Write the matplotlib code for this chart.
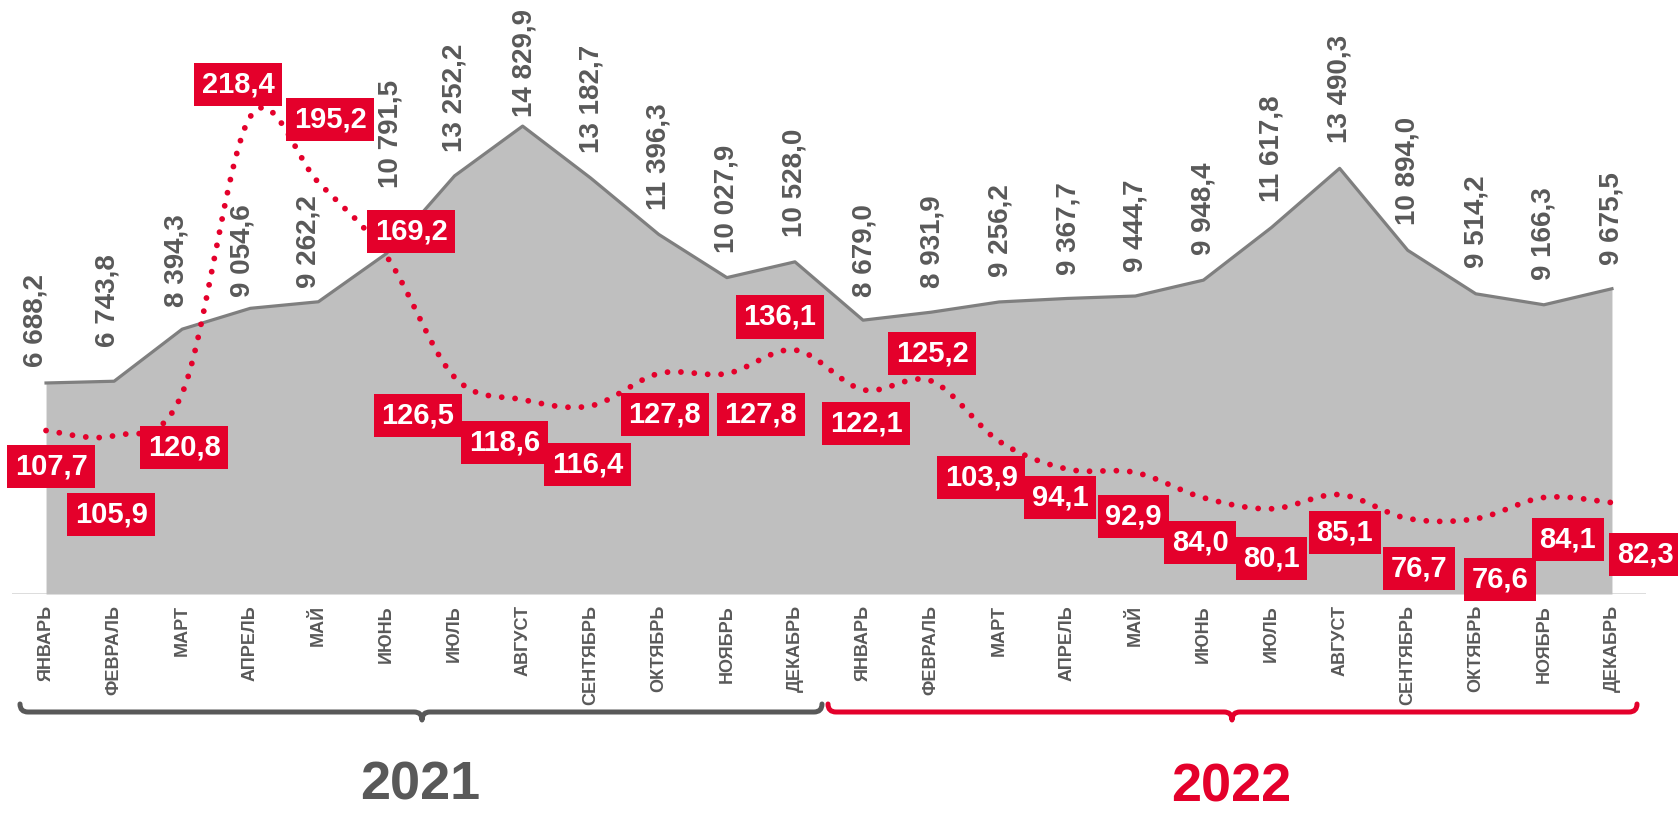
import numpy as np
import matplotlib
matplotlib.use("Agg")
import matplotlib.pyplot as plt
from matplotlib.path import Path
from matplotlib.patches import PathPatch

plt.rcParams['font.family'] = ['Liberation Sans', 'DejaVu Sans']

months = ["ЯНВАРЬ", "ФЕВРАЛЬ", "МАРТ", "АПРЕЛЬ", "МАЙ", "ИЮНЬ",
          "ИЮЛЬ", "АВГУСТ", "СЕНТЯБРЬ", "ОКТЯБРЬ", "НОЯБРЬ", "ДЕКАБРЬ"]
labels = months + months

volume = [6688.2, 6743.8, 8394.3, 9054.6, 9262.2, 10791.5,
          13252.2, 14829.9, 13182.7, 11396.3, 10027.9, 10528.0,
          8679.0, 8931.9, 9256.2, 9367.7, 9444.7, 9948.4,
          11617.8, 13490.3, 10894.0, 9514.2, 9166.3, 9675.5]

index = [107.7, 105.9, 120.8, 218.4, 195.2, 169.2,
         126.5, 118.6, 116.4, 127.8, 127.8, 136.1,
         122.1, 125.2, 103.9, 94.1, 92.9, 84.0,
         80.1, 85.1, 76.7, 76.6, 84.1, 82.3]

years = ["2021", "2022"]

# label offsets in pixels (dx right, dy down) from the data point
gray_offsets = [(-11, -16), (-7, -34), (-6, -22), (-8, -11), (-10, -14), (4, -66),
                (0, -24), (2, -9), (1, -25), (0, -24), (0, -25), (0, -25),
                (1, -23), (1, -24), (1, -25), (1, -23), (0, -24), (0, -25),
                (0, -25), (0, -25), (0, -25), (1, -26), (0, -25), (0, -24)]
red_offsets = [(5, 36), (-3, 79), (2, 54), (-12, -32), (12, -63), (25, -25),
               (-37, 38), (-18, 43), (-3, 59), (6, 41), (34, 41), (-15, -33),
               (3, 34), (1, -27), (-18, 36), (-7, 28), (-2, 44), (-3, 45),
               (0, 50), (5, 38), (11, 50), (24, 61), (24, 42), (33, 52)]

RED = "#E4002B"
GRAY_TXT = "#595959"
W, H = 1678, 814


def fmt(v):
    return f"{v:,.1f}".replace(",", " ").replace(".", ",")


def smooth(xs, ys, n=24):
    # Catmull-Rom spline, like a spreadsheet "smoothed line"
    p = np.column_stack([xs, ys]).astype(float)
    p = np.vstack([p[0], p, p[-1]])
    out = []
    t = np.linspace(0, 1, n, endpoint=False)[:, None]
    for i in range(1, len(p) - 2):
        p0, p1, p2, p3 = p[i - 1], p[i], p[i + 1], p[i + 2]
        c1 = p1 + (p2 - p0) / 6
        c2 = p2 - (p3 - p1) / 6
        seg = ((1 - t) ** 3) * p1 + 3 * ((1 - t) ** 2) * t * c1 + 3 * (1 - t) * t ** 2 * c2 + t ** 3 * p2
        out.append(seg)
    out.append(p[-2][None, :])
    out = np.vstack(out)
    return out[:, 0], out[:, 1]


def fx(x):
    return x / W


def fy(y):
    return 1 - y / H


fig = plt.figure(figsize=(W / 100, H / 100), dpi=100)
ax = fig.add_axes([fx(12), fy(594), fx(1646) - fx(12), fy(0) - fy(594)])
x = np.arange(len(volume))

ax.fill_between(x, volume, 0, color="#BFBFBF", lw=0, zorder=1)
ax.plot(x, volume, color="#7F7F7F", lw=2.3, zorder=2)
ax.axhline(0, color="#D9D9D9", lw=2, zorder=0)
ax.set_xlim(-0.5, len(volume) - 0.5)
ax.set_ylim(0, 18827)
ax.set_xticks(x)
ax.set_xticklabels(labels, rotation=90, fontsize=13, fontweight="bold", color=GRAY_TXT)
ax.tick_params(axis="x", length=0, pad=8)
ax.set_yticks([])
for s in ax.spines.values():
    s.set_visible(False)

for i, v in enumerate(volume):
    dx, dy = gray_offsets[i]
    ax.annotate(fmt(v), (i, v), xytext=(dx, -dy), textcoords="offset pixels",
                rotation=90, ha="center", va="bottom", fontsize=20,
                fontweight="bold", color=GRAY_TXT, zorder=3)

ax2 = ax.twinx()
ax2.set_ylim(50.07, 259.5)
ax2.set_yticks([])
for s in ax2.spines.values():
    s.set_visible(False)

sx, sy = smooth(x, index)
ax2.plot(sx, sy, color=RED, lw=4.2, linestyle=(0, (0.001, 2.3)),
         dash_capstyle="round", zorder=3)

for i, v in enumerate(index):
    dx, dy = red_offsets[i]
    ax2.annotate(fmt(v), (i, v), xytext=(dx, -dy), textcoords="offset pixels",
                 ha="center", va="center", fontsize=21, fontweight="bold",
                 color="white", zorder=5,
                 bbox=dict(boxstyle="square,pad=0.26", fc=RED, ec="none"))


def brace(x0, x1, xm, y, color, r=8):
    pts = [(x0, y - r), (x0, y), (x0 + r, y), (xm - r, y), (xm, y), (xm, y + r),
           (xm, y), (xm + r, y), (x1 - r, y), (x1, y), (x1, y - r)]
    codes = [Path.MOVETO, Path.CURVE3, Path.CURVE3, Path.LINETO, Path.CURVE3, Path.CURVE3,
             Path.CURVE3, Path.CURVE3, Path.LINETO, Path.CURVE3, Path.CURVE3]
    path = Path([(fx(a), fy(b)) for a, b in pts], codes)
    fig.add_artist(PathPatch(path, fc="none", ec=color, lw=3.6,
                             capstyle="round", joinstyle="round",
                             transform=fig.transFigure))


brace(20, 822, 422, 712, GRAY_TXT)
brace(828, 1637, 1232, 712, RED)

fig.text(fx(420), fy(800), years[0], ha="center", va="baseline",
         fontsize=39, fontweight="bold", color=GRAY_TXT)
fig.text(fx(1231), fy(801), years[1], ha="center", va="baseline",
         fontsize=39, fontweight="bold", color=RED)

fig.savefig("out.png", dpi=100)
